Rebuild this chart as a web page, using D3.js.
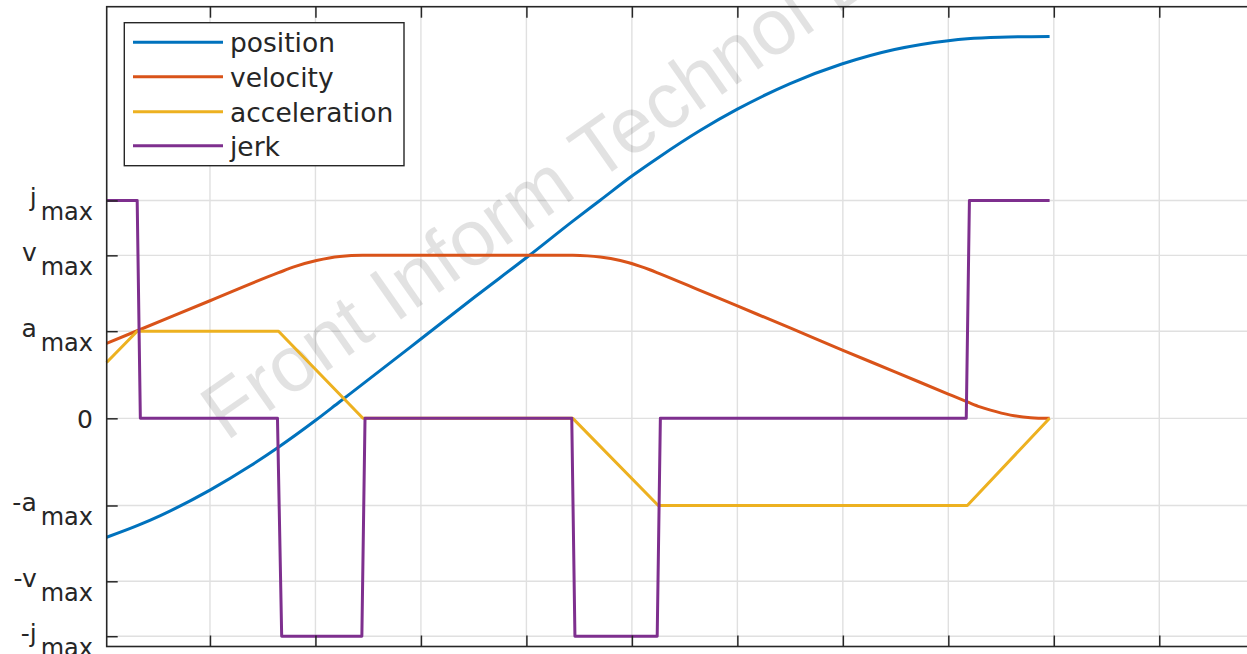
<!DOCTYPE html>
<html>
<head>
<meta charset="utf-8">
<script src="https://cdn.jsdelivr.net/npm/d3@7"></script>
<style>
  html, body { margin: 0; padding: 0; background: #fff; }
  svg { display: block; }
  text { font-family: "DejaVu Sans", sans-serif; fill: #262626; }
</style>
</head>
<body>
<svg id="chart" width="1247" height="654"></svg>
<script>
// Symbolic limits (acceleration limit used as the unit)
const aMax = 1.0;
const vMax = 1.87;
const jMax = 2.5;

// Y ticks: values and their labels (main symbol + subscript)
const yTickValues = [-jMax, -vMax, -aMax, 0, aMax, vMax, jMax];
const yTickMain   = ["-j", "-v", "-a", "0", "a", "v", "j"];
const yTickSub    = ["max", "max", "max", "", "max", "max", "max"];

// X ticks (time)
const xTickValues = [1, 2, 3, 4, 5, 6, 7, 8, 9, 10, 11];

// Series names and colours
const seriesNames  = ["position", "velocity", "acceleration", "jerk"];
const seriesColors = ["#0072BD", "#D95319", "#EDB120", "#7E2F8E"];

// Position
const posT = [0.02, 0.31, 0.53, 1.00, 1.38, 1.645, 2.005, 2.23, 2.45, 2.99, 3.51, 4.02, 4.44, 4.70, 5.01, 5.25, 5.65, 6.00, 6.50, 6.99, 7.49, 8.00, 8.18, 8.49, 8.96];
const posV = [-1.365, -1.232, -1.116, -0.824, -0.548, -0.335, -0.020, 0.190, 0.395, 0.902, 1.392, 1.862, 2.263, 2.503, 2.789, 2.991, 3.305, 3.547, 3.841, 4.065, 4.232, 4.333, 4.355, 4.373, 4.381];

// Velocity
const velT = [0.02, 0.31, 1.00, 1.65, 1.81, 2.01, 2.23, 2.45, 3.40, 4.44, 4.58, 4.70, 4.89, 5.08, 5.17, 5.25, 5.65, 6.00, 6.50, 6.99, 7.50, 8.00, 8.18, 8.30, 8.40, 8.59, 8.78, 8.96];
const velV = [0.861, 1.005, 1.349, 1.671, 1.743, 1.810, 1.857, 1.870, 1.870, 1.870, 1.864, 1.850, 1.810, 1.744, 1.705, 1.667, 1.466, 1.289, 1.037, 0.785, 0.531, 0.278, 0.189, 0.132, 0.094, 0.037, 0.008, 0.0];

// Acceleration
const accT = [0.02, 0.31, 1.65, 2.45, 4.44, 5.25, 8.18, 8.96];
const accV = [0.64, 1.0, 1.0, 0.0, 0.0, -1.0, -1.0, 0.0];

// Jerk
const jerkT = [0.02, 0.31, 0.34, 1.64, 1.68, 2.44, 2.47, 4.43, 4.46, 5.24, 5.27, 8.17, 8.20, 8.96];
const jerkV = [2.5, 2.5, 0, 0, -2.5, -2.5, 0, 0, -2.5, -2.5, 0, 0, 2.5, 2.5];

const svg = d3.select("#chart");

const plotLeft = 106.7, plotTop = 6.7, plotBottom = 646.5;
const tMin = 0.021, tMax = 11.9;
const x = d3.scaleLinear().domain([tMin, tMax]).range([plotLeft, plotLeft + (tMax - tMin) * 105.48]);
const y = d3.scaleLinear().domain([-2.618, 4.723]).range([plotBottom, plotTop]);
const plotRight = x(tMax);
const plotH = plotBottom - plotTop;
const plotW = plotRight - plotLeft;

// Grid
const grid = svg.append("g").attr("class", "grid");
grid.selectAll("line.v").data(xTickValues).join("line")
  .attr("x1", d => x(d)).attr("x2", d => x(d))
  .attr("y1", plotTop).attr("y2", plotBottom)
  .attr("stroke", "#e0e0e0").attr("stroke-width", 1.4);
grid.selectAll("line.h").data(yTickValues).join("line")
  .attr("x1", plotLeft).attr("x2", plotRight)
  .attr("y1", d => y(d)).attr("y2", d => y(d))
  .attr("stroke", "#e0e0e0").attr("stroke-width", 1.4);

// Watermark
svg.append("text")
  .attr("transform", "translate(226,442) rotate(-35)")
  .style("font-family", "'Liberation Sans', Arial, sans-serif")
  .style("font-size", "79px")
  .style("fill", "#000")
  .style("fill-opacity", 0.115)
  .text("Front Inform Technol Electron Eng");

// Curves
const mk = (ts, vs) => ts.map((t, i) => [t, vs[i]]);
const smooth = d3.line().x(d => x(d[0])).y(d => y(d[1])).curve(d3.curveMonotoneX);
const straight = d3.line().x(d => x(d[0])).y(d => y(d[1]));

const curves = [
  { data: mk(posT, posV), gen: smooth },
  { data: mk(velT, velV), gen: smooth },
  { data: mk(accT, accV), gen: straight },
  { data: mk(jerkT, jerkV), gen: straight }
];
svg.append("g").selectAll("path").data(curves).join("path")
  .attr("d", d => d.gen(d.data))
  .attr("fill", "none")
  .attr("stroke", (d, i) => seriesColors[i])
  .attr("stroke-width", 3)
  .attr("stroke-linejoin", "round");

// Axes
const axisColor = "#262626";
const tickLen = 11;
const gBottom = svg.append("g").attr("transform", `translate(0,${plotBottom})`)
  .call(d3.axisBottom(x).tickValues(xTickValues).tickSize(-tickLen).tickFormat(""));
const gTop = svg.append("g").attr("transform", `translate(0,${plotTop})`)
  .call(d3.axisTop(x).tickValues(xTickValues).tickSize(-tickLen).tickFormat(""));
const gLeft = svg.append("g").attr("transform", `translate(${plotLeft},0)`)
  .call(d3.axisLeft(y).tickValues(yTickValues).tickSize(-tickLen).tickFormat(""));
[gBottom, gTop, gLeft].forEach(g => {
  g.select(".domain").remove();
  g.selectAll(".tick line").attr("stroke", axisColor).attr("stroke-width", 1.5);
});
svg.append("rect")
  .attr("x", plotLeft).attr("y", plotTop)
  .attr("width", plotW).attr("height", plotH)
  .attr("fill", "none").attr("stroke", axisColor).attr("stroke-width", 1.6);

// Y tick labels with subscripts
const lbl = svg.append("g").selectAll("text").data(yTickValues).join("text")
  .attr("x", 93)
  .attr("y", (d, i) => y(d) + (yTickSub[i] ? 6 : 10))
  .attr("text-anchor", "end")
  .style("font-size", "25px");
lbl.append("tspan").text((d, i) => yTickMain[i]);
lbl.filter((d, i) => yTickSub[i] !== "")
  .append("tspan")
  .attr("dx", 4).attr("dy", 14)
  .style("font-size", "24px")
  .text(d => yTickSub[yTickValues.indexOf(d)]);

// Legend
const legend = svg.append("g");
legend.append("rect")
  .attr("x", 124.3).attr("y", 22.7).attr("width", 279.7).attr("height", 143)
  .attr("fill", "#fff").attr("stroke", axisColor).attr("stroke-width", 1.4);
const rowY = [42.3, 76.7, 111.7, 145.7];
const rows = legend.selectAll("g.row").data(seriesNames).join("g").attr("class", "row");
rows.append("line")
  .attr("x1", 133).attr("x2", 223)
  .attr("y1", (d, i) => rowY[i]).attr("y2", (d, i) => rowY[i])
  .attr("stroke", (d, i) => seriesColors[i]).attr("stroke-width", 3);
rows.append("text")
  .attr("x", 230).attr("y", (d, i) => rowY[i] + 10)
  .style("font-size", "26.5px")
  .text(d => d);
</script>
</body>
</html>
